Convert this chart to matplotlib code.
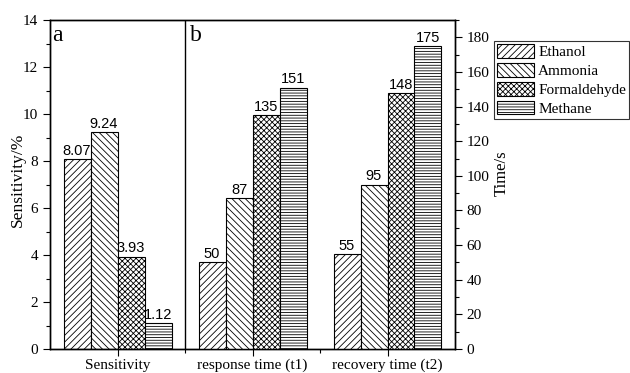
import matplotlib
matplotlib.use("Agg")
import matplotlib.pyplot as plt
import numpy as np

categories = ["Sensitivity", "response time (t1)", "recovery time (t2)"]
gases = ["Ethanol", "Ammonia", "Formaldehyde", "Methane"]
sensitivity = [8.07, 9.24, 3.93, 1.12]
response_time = [50, 87, 135, 151]
recovery_time = [55, 95, 148, 175]
hatches = ["/////", "\\\\\\\\\\", "xxxxxx", "------"]

plt.rcParams['hatch.linewidth'] = 0.6
serif = ['Liberation Serif', 'DejaVu Serif']
sans = ['Liberation Sans', 'DejaVu Sans']

fig = plt.figure(figsize=(6.3, 3.73), dpi=100)
ax = fig.add_axes([50/630, 24/373, 405/630, 329/373])
ax2 = ax.twinx()

w = 0.2
offsets = [-0.3, -0.1, 0.1, 0.3]
handles = []
for i, g in enumerate(gases):
    b = ax.bar(0 + offsets[i], sensitivity[i], w, color='white', edgecolor='black',
               hatch=hatches[i], linewidth=0.8, label=g)
    handles.append(b)
    ax.text(0 + offsets[i], sensitivity[i] + 0.05, f"{sensitivity[i]:.2f}",
            ha='center', va='bottom', fontsize=10.5, family=sans)
    for xc, vals in ((1, response_time), (2, recovery_time)):
        ax2.bar(xc + offsets[i], vals[i], w, color='white', edgecolor='black',
                hatch=hatches[i], linewidth=0.8)
        ax2.text(xc + offsets[i], vals[i] + 0.6, f"{vals[i]}",
                 ha='center', va='bottom', fontsize=10.5, family=sans)

ax.set_xlim(-0.5, 2.5)
ax.set_ylim(0, 14)
ax2.set_ylim(0, 190)
ax.axvline(0.5, color='black', linewidth=1)

ax.set_xticks([0, 1, 2])
ax.set_xticklabels(categories, family=serif, fontsize=11.3)
ax.set_xticks([0.5, 1.5], minor=True)
ax.set_yticks(np.arange(0, 15, 2))
ax.set_yticks(np.arange(1, 14, 2), minor=True)
ax2.set_yticks(np.arange(0, 181, 20))
ax2.set_yticks(np.arange(10, 191, 20), minor=True)

for a in (ax, ax2):
    a.tick_params(which='major', direction='out', length=5, width=0.8, labelsize=11)
    a.tick_params(which='minor', direction='out', length=3, width=0.8)
    for lab in a.get_yticklabels():
        lab.set_family(serif)
    for s in a.spines.values():
        s.set_linewidth(1)
ax.tick_params(axis='x', pad=2)

ax.set_ylabel("Sensitivity/%", family=serif, fontsize=12.5)
ax.yaxis.set_label_coords(-0.06, 0.514)
ax2.set_ylabel("Time/s", family=serif, fontsize=12)
ax2.yaxis.set_label_coords(1.096, 0.533)

ax.text(0.005, 0.985, "a", transform=ax.transAxes, family=serif, fontsize=17,
        va='top', ha='left')
ax.text(0.345, 0.985, "b", transform=ax.transAxes, family=serif, fontsize=17,
        va='top', ha='left')

leg = fig.legend(handles, gases, loc='upper left', bbox_to_anchor=(494/630, 1 - 41/373),
                 prop={'family': serif, 'size': 11}, frameon=True, fancybox=False,
                 edgecolor='black', handlelength=2.4, handleheight=1.0,
                 labelspacing=0.25, borderpad=0.2, handletextpad=0.3, borderaxespad=0)
leg.get_frame().set_linewidth(0.8)

fig.savefig("out.png", dpi=100)
